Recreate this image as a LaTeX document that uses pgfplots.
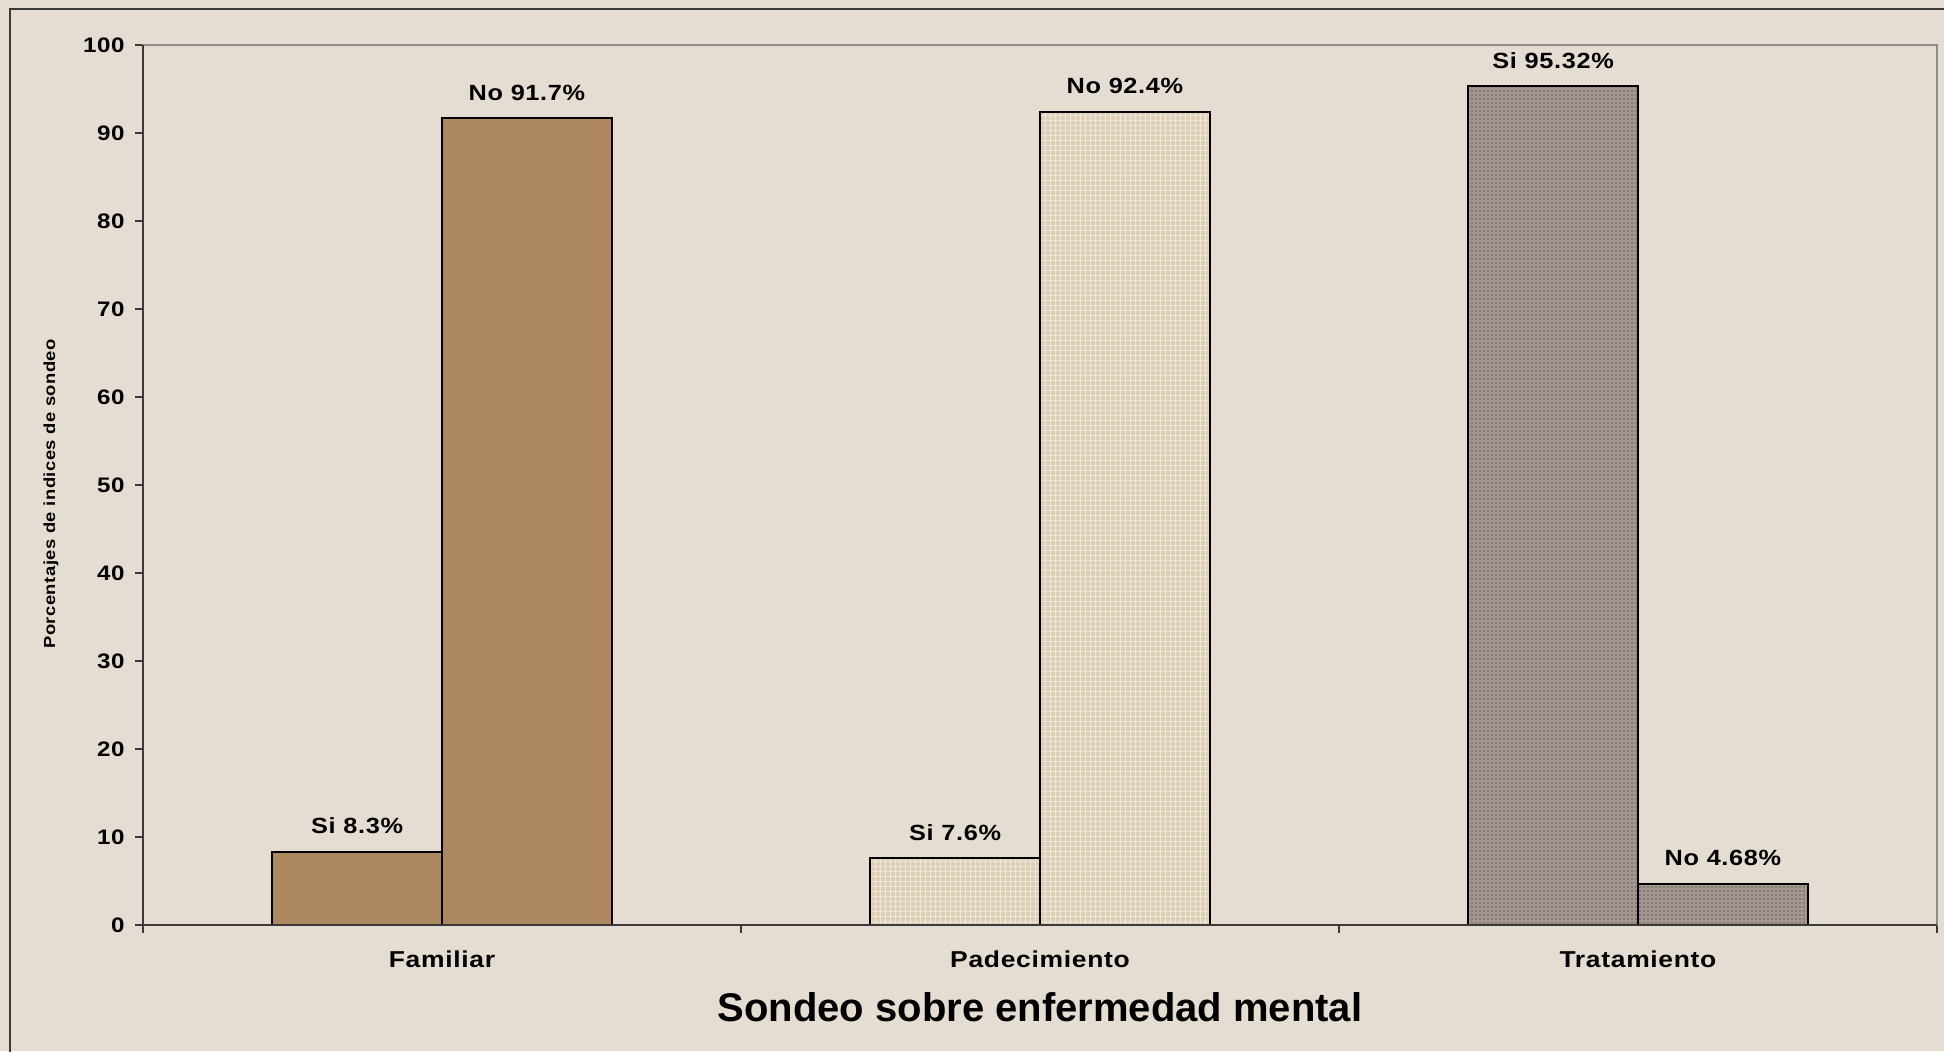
\documentclass[border=0pt]{standalone}
\usepackage{pgfplots}
\pgfplotsset{compat=1.18}
\usepackage{fontspec}
\setmainfont{Liberation Sans}
\newfontfamily\widefont{Liberation Sans}[FakeStretch=1.15, LetterSpace=3]
\usetikzlibrary{patterns.meta}

\definecolor{bgbeige}{HTML}{E5DDD1}
\definecolor{famfill}{HTML}{AC8760}
\definecolor{padfill}{HTML}{DDD0B7}
\definecolor{padlight}{HTML}{EFE7D7}
\definecolor{trafill}{HTML}{A39690}
\definecolor{tradark}{HTML}{6E625C}
\definecolor{plotgray}{HTML}{8C8C8C}
\definecolor{axisdark}{HTML}{3A3A3A}

\begin{document}
\begin{tikzpicture}
\fill[bgbeige] (-71.5pt,-63pt) rectangle (900.5pt,462.5pt);
\useasboundingbox (-71.5pt,-63pt) rectangle (900.5pt,462.5pt);
% outer chart frame, cut off at right and bottom
\draw[axisdark, line width=1pt] (-66.5pt,-70pt) -- (-66.5pt,458pt) -- (910pt,458pt);

\begin{axis}[
  at={(0,0)}, anchor=south west, scale only axis,
  width=897pt, height=440pt,
  xmin=-0.5, xmax=2.5, ymin=0, ymax=100,
  ybar, bar width=0.284, bar shift=0pt,
  ytick={0,10,...,100},
  xtick={0,1,2}, xticklabels={Familiar,Padecimiento,Tratamiento},
  minor xtick={-0.5,0.5,1.5,2.5},
  tick align=outside, xtick pos=bottom, ytick pos=left,
  major tick length=4pt, minor tick length=4pt,
  major x tick style={draw=none},
  every tick/.style={axisdark, line width=1pt},
  axis line style={plotgray, line width=1pt},
  /pgf/number format/assume math mode=true,
  yticklabel style={font=\widefont\bfseries\fontsize{10.5}{12}\selectfont,
    anchor=east, inner sep=0pt, xshift=-5pt},
  xticklabel style={font=\widefont\bfseries\fontsize{11.5}{13}\selectfont,
    anchor=base, inner sep=0pt, yshift=-17pt},
  xlabel={Sondeo sobre enfermedad mental},
  xlabel style={font=\bfseries\fontsize{20}{24}\selectfont,
    at={(axis description cs:0.5,0)}, anchor=base, inner sep=0pt, yshift=-48pt},
  ylabel={Porcentajes de indices de sondeo},
  ylabel style={font=\widefont\bfseries\fontsize{8}{9.6}\selectfont,
    at={(axis description cs:-0.0513,0.49)}, anchor=center},
  nodes near coords, point meta=explicit symbolic,
  every node near coord/.append style={font=\widefont\bfseries\fontsize{11}{13}\selectfont,
    text=black, anchor=base, inner sep=0pt, yshift=9pt},
  clip=false,
]
% Familiar
\addplot[draw=black, line width=1.2pt, fill=famfill] coordinates {
  (-0.142,8.3) [Si 8.3\%]
  (0.142,91.7) [No 91.7\%]};
% Padecimiento
\addplot[draw=black, line width=1.2pt, preaction={fill=padfill},
  pattern={Hatch[angle=0, distance=2.5pt, line width=0.5pt]}, pattern color=padlight]
  coordinates {
  (0.858,7.6) [Si 7.6\%]
  (1.142,92.4) [No 92.4\%]};
% Tratamiento
\addplot[draw=black, line width=1.2pt, preaction={fill=trafill},
  pattern={Dots[distance=2pt, radius=0.45pt]}, pattern color=tradark]
  coordinates {
  (1.858,95.32) [Si 95.32\%]
  (2.142,4.68) [No 4.68\%]};
\draw[axisdark, line width=1pt] (rel axis cs:0,1) -- (rel axis cs:0,0) -- (rel axis cs:1,0);
\end{axis}
\end{tikzpicture}
\end{document}
